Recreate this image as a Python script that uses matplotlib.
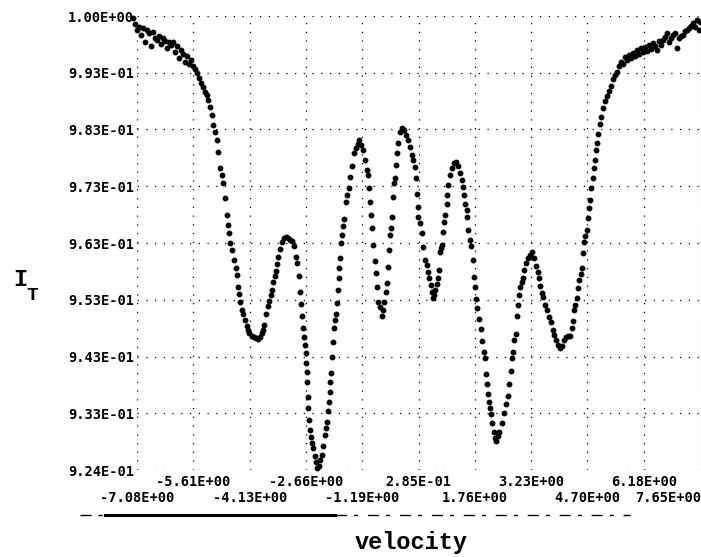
import numpy as np
from matplotlib import pyplot as plt
from matplotlib.lines import Line2D

# transmission spectrum (velocity in mm/s)
velocity = [
    -7.18, -7.13, -7.08, -7.03, -6.98, -6.92, -6.87, -6.82, -6.77, -6.71,
    -6.66, -6.61, -6.56, -6.50, -6.45, -6.40, -6.35, -6.30, -6.24, -6.19,
    -6.14, -6.09, -6.03, -5.98, -5.93, -5.88, -5.82, -5.77, -5.72, -5.67,
    -5.62, -5.56, -5.51, -5.46, -5.41, -5.35, -5.30, -5.25, -5.22, -5.17,
    -5.12, -5.09, -5.04, -4.99, -4.96, -4.91, -4.86, -4.83, -4.78, -4.73,
    -4.70, -4.67, -4.65, -4.59, -4.54, -4.49, -4.46, -4.44, -4.41, -4.39,
    -4.33, -4.31, -4.25, -4.20, -4.18, -4.14, -4.07, -4.02, -3.97, -3.91,
    -3.86, -3.81, -3.78, -3.76, -3.71, -3.65, -3.63, -3.57, -3.55, -3.52,
    -3.47, -3.44, -3.42, -3.39, -3.34, -3.29, -3.23, -3.18, -3.13, -3.08,
    -3.02, -2.97, -2.92, -2.89, -2.84, -2.82, -2.79, -2.76, -2.74, -2.71,
    -2.69, -2.66, -2.65, -2.63, -2.62, -2.61, -2.60, -2.58, -2.55, -2.53,
    -2.50, -2.48, -2.42, -2.40, -2.37, -2.32, -2.29, -2.24, -2.21, -2.16,
    -2.13, -2.11, -2.08, -2.06, -2.03, -2.02, -2.00, -1.98, -1.95, -1.93,
    -1.90, -1.87, -1.85, -1.82, -1.80, -1.79, -1.78, -1.74, -1.72, -1.69,
    -1.66, -1.61, -1.59, -1.53, -1.51, -1.46, -1.40, -1.35, -1.30, -1.27,
    -1.22, -1.17, -1.12, -1.06, -1.04, -1.01, -0.98, -0.97, -0.93, -0.91,
    -0.85, -0.83, -0.80, -0.78, -0.72, -0.67, -0.64, -0.62, -0.57, -0.54,
    -0.51, -0.49, -0.46, -0.44, -0.41, -0.38, -0.36, -0.33, -0.30, -0.28,
    -0.25, -0.20, -0.15, -0.09, -0.04, 0.01, 0.06, 0.11, 0.14, 0.19,
    0.22, 0.25, 0.26, 0.27, 0.32, 0.38, 0.40, 0.45, 0.51, 0.53,
    0.56, 0.61, 0.64, 0.66, 0.69, 0.72, 0.77, 0.79, 0.82, 0.85,
    0.87, 0.90, 0.93, 0.95, 0.98, 1.03, 1.04, 1.06, 1.11, 1.16,
    1.21, 1.27, 1.32, 1.37, 1.42, 1.45, 1.48, 1.50, 1.55, 1.56,
    1.58, 1.63, 1.66, 1.71, 1.74, 1.76, 1.79, 1.81, 1.87, 1.92,
    1.95, 2.00, 2.02, 2.05, 2.08, 2.10, 2.13, 2.16, 2.18, 2.21,
    2.26, 2.29, 2.31, 2.36, 2.39, 2.47, 2.52, 2.57, 2.63, 2.65,
    2.70, 2.73, 2.76, 2.78, 2.84, 2.86, 2.89, 2.91, 2.94, 2.99,
    3.02, 3.04, 3.10, 3.15, 3.20, 3.25, 3.31, 3.36, 3.41, 3.44,
    3.46, 3.52, 3.54, 3.59, 3.65, 3.70, 3.75, 3.80, 3.83, 3.88,
    3.93, 3.99, 4.04, 4.09, 4.14, 4.20, 4.25, 4.30, 4.33, 4.35,
    4.38, 4.43, 4.46, 4.48, 4.54, 4.56, 4.59, 4.61, 4.64, 4.69,
    4.72, 4.75, 4.77, 4.80, 4.85, 4.88, 4.90, 4.93, 4.95, 4.98,
    5.03, 5.06, 5.11, 5.16, 5.22, 5.27, 5.32, 5.37, 5.42, 5.48,
    5.53, 5.58, 5.63, 5.69, 5.74, 5.79, 5.84, 5.90, 5.95, 6.00,
    6.05, 6.11, 6.16, 6.21, 6.26, 6.31, 6.37, 6.42, 6.47, 6.52,
    6.58, 6.63, 6.68, 6.73, 6.79, 6.84, 6.89, 6.94, 7.00, 7.05,
    7.10, 7.15, 7.21, 7.26, 7.31, 7.36, 7.41, 7.47, 7.52, 7.57,
    7.62, 7.65,
]
transmission = [
    1.0024, 1.0014, 1.0004, 1.0009, 0.9995, 1.0007, 0.9983, 1.0004, 0.9999, 0.9976,
    1.0000, 0.9990, 0.9986, 0.9993, 0.9979, 0.9990, 0.9985, 0.9972, 0.9983, 0.9978,
    0.9983, 0.9965, 0.9976, 0.9955, 0.9969, 0.9962, 0.9948, 0.9959, 0.9945, 0.9952,
    0.9941, 0.9936, 0.9929, 0.9920, 0.9912, 0.9905, 0.9896, 0.9891, 0.9882, 0.9870,
    0.9856, 0.9839, 0.9826, 0.9812, 0.9791, 0.9764, 0.9752, 0.9738, 0.9712, 0.9682,
    0.9665, 0.9651, 0.9634, 0.9621, 0.9604, 0.9590, 0.9578, 0.9557, 0.9545, 0.9531,
    0.9517, 0.9510, 0.9500, 0.9489, 0.9482, 0.9477, 0.9472, 0.9470, 0.9468, 0.9467,
    0.9470, 0.9477, 0.9482, 0.9491, 0.9510, 0.9524, 0.9533, 0.9543, 0.9552, 0.9566,
    0.9576, 0.9585, 0.9597, 0.9609, 0.9623, 0.9635, 0.9642, 0.9644, 0.9642, 0.9639,
    0.9637, 0.9628, 0.9609, 0.9599, 0.9576, 0.9548, 0.9527, 0.9507, 0.9486, 0.9470,
    0.9456, 0.9442, 0.9425, 0.9409, 0.9392, 0.9366, 0.9347, 0.9326, 0.9309, 0.9296,
    0.9286, 0.9277, 0.9263, 0.9253, 0.9242, 0.9246, 0.9256, 0.9265, 0.9281, 0.9300,
    0.9312, 0.9323, 0.9342, 0.9357, 0.9375, 0.9392, 0.9408, 0.9435, 0.9461, 0.9486,
    0.9500, 0.9510, 0.9529, 0.9552, 0.9573, 0.9590, 0.9607, 0.9634, 0.9647, 0.9663,
    0.9675, 0.9705, 0.9717, 0.9729, 0.9748, 0.9767, 0.9790, 0.9798, 0.9805, 0.9812,
    0.9803, 0.9795, 0.9778, 0.9760, 0.9752, 0.9729, 0.9705, 0.9682, 0.9660, 0.9630,
    0.9602, 0.9581, 0.9557, 0.9531, 0.9522, 0.9507, 0.9517, 0.9531, 0.9548, 0.9564,
    0.9592, 0.9621, 0.9647, 0.9660, 0.9678, 0.9714, 0.9738, 0.9747, 0.9769, 0.9790,
    0.9807, 0.9826, 0.9833, 0.9830, 0.9821, 0.9812, 0.9800, 0.9786, 0.9778, 0.9766,
    0.9747, 0.9719, 0.9696, 0.9678, 0.9668, 0.9651, 0.9626, 0.9604, 0.9595, 0.9583,
    0.9573, 0.9561, 0.9548, 0.9538, 0.9543, 0.9552, 0.9562, 0.9573, 0.9587, 0.9618,
    0.9625, 0.9630, 0.9653, 0.9670, 0.9682, 0.9701, 0.9717, 0.9734, 0.9752, 0.9764,
    0.9773, 0.9774, 0.9767, 0.9755, 0.9743, 0.9731, 0.9717, 0.9701, 0.9691, 0.9678,
    0.9656, 0.9639, 0.9628, 0.9604, 0.9574, 0.9557, 0.9536, 0.9520, 0.9501, 0.9484,
    0.9463, 0.9444, 0.9434, 0.9406, 0.9389, 0.9371, 0.9357, 0.9347, 0.9336, 0.9321,
    0.9305, 0.9295, 0.9289, 0.9298, 0.9305, 0.9321, 0.9338, 0.9354, 0.9368, 0.9389,
    0.9411, 0.9434, 0.9444, 0.9465, 0.9475, 0.9507, 0.9526, 0.9543, 0.9557, 0.9566,
    0.9573, 0.9587, 0.9599, 0.9607, 0.9613, 0.9618, 0.9607, 0.9593, 0.9583, 0.9573,
    0.9559, 0.9547, 0.9540, 0.9526, 0.9517, 0.9505, 0.9496, 0.9482, 0.9474, 0.9465,
    0.9456, 0.9451, 0.9454, 0.9465, 0.9470, 0.9472, 0.9472, 0.9486, 0.9498, 0.9517,
    0.9526, 0.9538, 0.9555, 0.9569, 0.9580, 0.9590, 0.9616, 0.9635, 0.9646, 0.9656,
    0.9677, 0.9694, 0.9708, 0.9729, 0.9747, 0.9764, 0.9778, 0.9795, 0.9807, 0.9823,
    0.9840, 0.9852, 0.9868, 0.9880, 0.9889, 0.9898, 0.9906, 0.9919, 0.9925, 0.9931,
    0.9941, 0.9948, 0.9945, 0.9957, 0.9952, 0.9960, 0.9955, 0.9964, 0.9959, 0.9969,
    0.9962, 0.9972, 0.9965, 0.9974, 0.9967, 0.9978, 0.9971, 0.9981, 0.9976, 0.9969,
    0.9985, 0.9978, 0.9986, 0.9991, 0.9999, 0.9983, 0.9990, 0.9995, 0.9999, 0.9972,
    0.9990, 0.9993, 0.9995, 1.0002, 1.0004, 1.0007, 1.0011, 1.0016, 1.0009, 1.0021,
    1.0004, 1.0018,
]

x_ticks = [-7.08, -5.61, -4.13, -2.66, -1.19, 0.285, 1.76, 3.23, 4.70, 6.18, 7.65]
x_tick_labels = ["-7.08E+00", "-5.61E+00", "-4.13E+00", "-2.66E+00", "-1.19E+00",
                 "2.85E-01", "1.76E+00", "3.23E+00", "4.70E+00", "6.18E+00", "7.65E+00"]
y_ticks = [0.9239, 0.9338, 0.9436, 0.9535, 0.9633, 0.9732, 0.9831, 0.9929, 1.0028]
y_tick_labels = ["9.24E-01", "9.33E-01", "9.43E-01", "9.53E-01", "9.63E-01",
                 "9.73E-01", "9.83E-01", "9.93E-01", "1.00E+00"]

tick_font = dict(family="DejaVu Sans Mono", weight="bold", size=9.8)
label_font = dict(family="Liberation Mono", weight="bold")

W, H = 701, 557
fig = plt.figure(figsize=(W / 100, H / 100), dpi=100)
ax = fig.add_axes([137 / W, 1 - 470 / H, 563 / W, 454 / H])

ax.plot(velocity, transmission, "o", ms=3.2, color="black", mec="black",
        clip_on=False, zorder=3)

ax.set_xlim(x_ticks[0], x_ticks[-1])
ax.set_ylim(y_ticks[0], y_ticks[-1])
for s in ax.spines.values():
    s.set_visible(False)

ax.set_xticks(x_ticks)
ax.set_xticklabels([])
ax.set_yticks(y_ticks)
ax.set_yticklabels(y_tick_labels, **tick_font)
ax.tick_params(length=0, pad=2)
ax.grid(True, color="black", linestyle=(0, (1, 6)), linewidth=0.9)

# staggered x labels: even ticks in the lower row, odd ticks just under the axis
last = len(x_ticks) - 1
for i, (v, lab) in enumerate(zip(x_ticks, x_tick_labels)):
    off = -12 if i % 2 else -28
    # the last label is pushed in so it ends at the page edge, as printed
    ha, dx = ("right", 1) if i == last else ("center", 0)
    ax.annotate(lab, xy=(v, 0), xycoords=("data", "axes fraction"),
                xytext=(dx, off), textcoords="offset pixels",
                ha=ha, va="center", annotation_clip=False, **tick_font)

# broken baseline under the labels (as printed)
fig.add_artist(Line2D([80 / W, 630 / W], [1 - 515 / H] * 2, color="black",
                      lw=1.0, linestyle=(0, (8, 5, 3, 7))))
fig.add_artist(Line2D([105 / W, 335 / W], [1 - 515 / H] * 2, color="black", lw=2.2))

fig.text(13 / W, 1 - 280 / H, "I", fontsize=17, ha="left", va="center", **label_font)
fig.text(26 / W, 1 - 296 / H, "T", fontsize=14, ha="left", va="center", **label_font)
fig.text(411 / W, 1 - 543 / H, "velocity", fontsize=17, ha="center", va="center",
         **label_font)

fig.savefig("out.png", dpi=100)
